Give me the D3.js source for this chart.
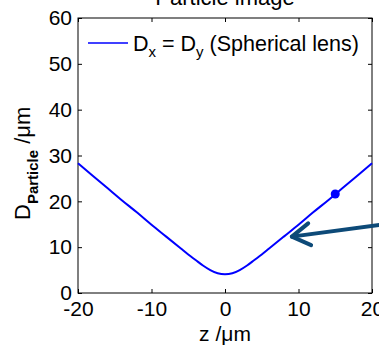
<!DOCTYPE html>
<html>
<head>
<meta charset="utf-8">
<script src="https://cdn.jsdelivr.net/npm/d3@7"></script>
<style>
  body { margin: 0; background: #fff; }
  svg { display: block; font-family: Arial, "Liberation Sans", sans-serif; }
</style>
</head>
<body>
<div id="chart"></div>
<script>
// z positions (um) and particle image diameter
const zValues = [-20, -18, -16, -14, -12, -10, -8, -6, -5, -4, -3, -2, -1, 0, 1, 2, 3, 4, 5, 6, 8, 10, 12, 14, 16, 18, 20];
const dValues = [28.3, 25.6, 22.9, 20.2, 17.6, 14.9, 12.3, 9.7, 8.4, 7.2, 6.0, 5.0, 4.3, 4.1, 4.3, 5.0, 6.0, 7.2, 8.4, 9.7, 12.3, 14.9, 17.6, 20.2, 22.9, 25.6, 28.3];
const marker = [15, 21.6];
const arrowFrom = [21.2, 14.9];
const arrowTo = [9.1, 12.3];
const xTicks = [-20, -10, 0, 10, 20];
const yTicks = [0, 10, 20, 30, 40, 50, 60];

const W = 379, H = 349;
const margin = { top: 18, right: 7, bottom: 56, left: 78 };
const width = W - margin.left - margin.right;
const height = H - margin.top - margin.bottom;

const svg = d3.select("#chart").append("svg")
  .attr("width", W).attr("height", H);

const g = svg.append("g")
  .attr("transform", `translate(${margin.left},${margin.top})`);

const x = d3.scaleLinear().domain([-20, 20]).range([0, width]);
const y = d3.scaleLinear().domain([0, 60]).range([height, 0]);

// title, cut off at the top like the original
svg.append("text")
  .attr("x", margin.left + width / 2).attr("y", 5)
  .attr("text-anchor", "middle")
  .style("font-size", "22px")
  .text("Particle image");

// axes with inward ticks (box style)
function styleAxis(sel) {
  sel.select(".domain").remove();
  sel.selectAll("line").attr("stroke", "#000");
  sel.selectAll("text").style("font-size", "21px").attr("fill", "#000");
}
const fmt = d => String(d);
g.append("g")
  .attr("transform", `translate(0,${height})`)
  .call(d3.axisBottom(x).tickValues(xTicks).tickFormat(fmt).tickSizeInner(-4).tickPadding(8))
  .call(styleAxis);
g.append("g")
  .call(d3.axisTop(x).tickValues(xTicks).tickSizeInner(-4).tickFormat(""))
  .call(styleAxis);
g.append("g")
  .call(d3.axisLeft(y).tickValues(yTicks).tickFormat(fmt).tickSizeInner(-4).tickPadding(6))
  .call(styleAxis);
g.append("g")
  .attr("transform", `translate(${width},0)`)
  .call(d3.axisRight(y).tickValues(yTicks).tickSizeInner(-4).tickFormat(""))
  .call(styleAxis);

g.append("rect")
  .attr("width", width).attr("height", height)
  .attr("fill", "none").attr("stroke", "#000").attr("stroke-width", 1);

// curve
const pts = zValues.map((z, i) => [z, dValues[i]]);
g.append("path")
  .datum(pts)
  .attr("fill", "none")
  .attr("stroke", "#0000ff")
  .attr("stroke-width", 2)
  .attr("d", d3.line().x(d => x(d[0])).y(d => y(d[1])).curve(d3.curveMonotoneX));

g.append("circle")
  .attr("cx", x(marker[0])).attr("cy", y(marker[1]))
  .attr("r", 4.5).attr("fill", "#0000ff");

// legend
const leg = g.append("g").attr("transform", "translate(10,25)");
leg.append("line")
  .attr("x1", 0).attr("x2", 40)
  .attr("stroke", "#0000ff").attr("stroke-width", 1.5);
const lt = leg.append("text")
  .attr("x", 45).attr("y", 8)
  .style("font-size", "21.5px");
lt.append("tspan").text("D");
lt.append("tspan").attr("dy", 6).style("font-size", "15px").text("x");
lt.append("tspan").attr("dy", -6).text(" = D");
lt.append("tspan").attr("dy", 6).style("font-size", "15px").text("y");
lt.append("tspan").attr("dy", -6).text(" (Spherical lens)");

// arrow annotation
const ax0 = x(arrowFrom[0]), ay0 = y(arrowFrom[1]);
const ax1 = x(arrowTo[0]), ay1 = y(arrowTo[1]);
const ang = Math.atan2(ay1 - ay0, ax1 - ax0);
const headLen = 21, headAng = 0.55;
const arrowColor = "#0d4a78";
g.append("line")
  .attr("x1", ax0).attr("y1", ay0).attr("x2", ax1).attr("y2", ay1)
  .attr("stroke", arrowColor).attr("stroke-width", 4).attr("stroke-linecap", "round");
g.append("path")
  .attr("d", `M${ax1 - headLen * Math.cos(ang - headAng)},${ay1 - headLen * Math.sin(ang - headAng)}
              L${ax1},${ay1}
              L${ax1 - headLen * Math.cos(ang + headAng)},${ay1 - headLen * Math.sin(ang + headAng)}`)
  .attr("fill", "none").attr("stroke", arrowColor)
  .attr("stroke-width", 4).attr("stroke-linecap", "round").attr("stroke-linejoin", "round");

// axis titles
svg.append("text")
  .attr("x", margin.left + width / 2).attr("y", 341)
  .attr("text-anchor", "middle")
  .style("font-size", "21px")
  .text("z /\u03bcm");

const yl = svg.append("text")
  .attr("transform", "translate(30,220) rotate(-90)")
  .style("font-size", "22px");
yl.append("tspan").text("D");
yl.append("tspan").attr("dy", 8).style("font-size", "15px").style("font-weight", "bold").text("Particle");
yl.append("tspan").attr("dy", -8).text(" /\u03bcm");
</script>
</body>
</html>
